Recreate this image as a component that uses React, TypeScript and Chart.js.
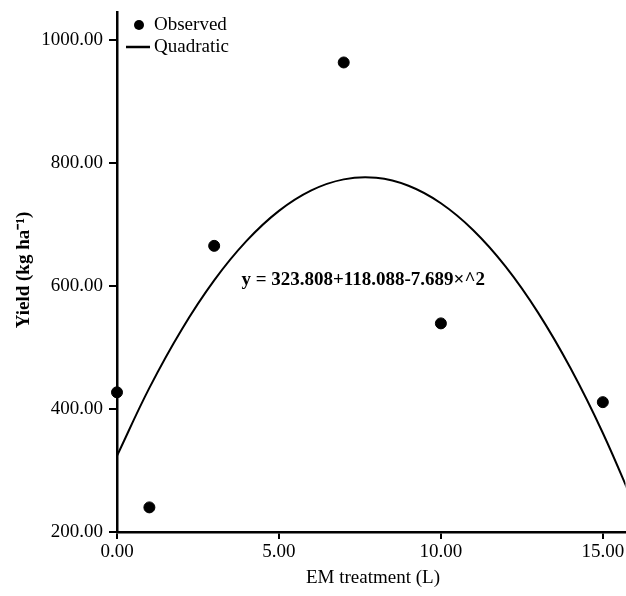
import React, { useEffect, useRef } from "react";
import { Chart, registerables } from "chart.js";

Chart.register(...registerables);

const observedX = [0, 1, 3, 7, 10, 15];
const observedY = [427, 240, 665, 963, 539, 411];

const fitX = [0, 1, 2, 3, 4, 5, 6, 7, 8, 9, 10, 11, 12, 13, 14, 15, 16];
const fitY = [323.8, 434.2, 529.2, 608.9, 673.0, 721.8, 755.1, 773.0, 775.5, 762.6, 734.2, 690.4, 631.2, 556.5, 466.4, 360.9, 240.0];

const xTicks = [0, 5, 10, 15];
const yTicks = [200, 400, 600, 800, 1000];

const legendLabels = ["Observed", "Quadratic"];
const equationText = "y = 323.808+118.088-7.689\u00d7^2";
const xTitle = "EM treatment (L)";
const yTitle = "Yield (kg ha\u207b\u00b9)";

const FONT = "'Liberation Serif', 'Times New Roman', serif";

const textPlugin = {
  id: "textPlugin",
  afterDraw(chart: any) {
    const ctx = chart.ctx;
    const xs = chart.scales.x;
    const ys = chart.scales.y;
    ctx.save();
    ctx.fillStyle = "#000";
    ctx.strokeStyle = "#000";
    // legend
    ctx.beginPath();
    ctx.arc(139, 25, 5, 0, Math.PI * 2);
    ctx.fill();
    ctx.lineWidth = 2.5;
    ctx.beginPath();
    ctx.moveTo(126, 47);
    ctx.lineTo(150, 47);
    ctx.stroke();
    ctx.font = `19px ${FONT}`;
    ctx.textAlign = "left";
    ctx.textBaseline = "middle";
    ctx.fillText(legendLabels[0], 154, 25);
    ctx.fillText(legendLabels[1], 154, 47);
    // equation
    ctx.font = `bold 19px ${FONT}`;
    ctx.textAlign = "center";
    ctx.fillText(equationText, xs.getPixelForValue(7.6), ys.getPixelForValue(610));
    // x title
    ctx.font = `19px ${FONT}`;
    ctx.fillText(xTitle, 373, 578);
    // y title
    ctx.translate(24, 270);
    ctx.rotate(-Math.PI / 2);
    ctx.font = `bold 19px ${FONT}`;
    ctx.fillText(yTitle, 0, 0);
    ctx.restore();
  },
};

export default function App() {
  const ref = useRef<HTMLCanvasElement>(null);
  useEffect(() => {
    if (!ref.current) return;
    const chart = new Chart(ref.current, {
      type: "scatter",
      data: {
        datasets: [
          {
            type: "scatter",
            label: legendLabels[0],
            data: observedX.map((x, i) => ({ x, y: observedY[i] })),
            backgroundColor: "#000",
            borderColor: "#000",
            pointRadius: 5.5,
            clip: false,
          } as any,
          {
            type: "line",
            label: legendLabels[1],
            data: fitX.map((x, i) => ({ x, y: fitY[i] })),
            borderColor: "#000",
            borderWidth: 2,
            pointRadius: 0,
            tension: 0.4,
            fill: false,
          } as any,
        ],
      },
      options: {
        animation: false,
        responsive: false,
        maintainAspectRatio: false,
        layout: { padding: { top: 12, right: 0, left: 0, bottom: 0 } },
        plugins: { legend: { display: false }, tooltip: { enabled: false } },
        scales: {
          x: {
            type: "linear",
            min: 0,
            max: 15.7,
            afterBuildTicks: (s: any) => {
              s.ticks = xTicks.map((v) => ({ value: v }));
            },
            afterFit: (s: any) => {
              s.height = 64;
              s.paddingRight = 0;
              s.paddingLeft = 0;
            },
            border: { color: "#000", width: 2.5 },
            grid: { drawOnChartArea: false, color: "#000", lineWidth: 2, tickLength: 7 },
            ticks: {
              color: "#000",
              padding: 2,
              maxRotation: 0,
              font: { family: FONT, size: 19 },
              callback: (v: any) => Number(v).toFixed(2),
            },
          },
          y: {
            type: "linear",
            min: 200,
            max: 1045,
            afterBuildTicks: (s: any) => {
              s.ticks = yTicks.map((v) => ({ value: v }));
            },
            afterFit: (s: any) => {
              s.width = 117;
              s.paddingTop = 0;
              s.paddingBottom = 0;
            },
            border: { color: "#000", width: 2.5 },
            grid: { drawOnChartArea: false, color: "#000", lineWidth: 2, tickLength: 8 },
            ticks: {
              color: "#000",
              padding: 6,
              font: { family: FONT, size: 19 },
              callback: (v: any) => Number(v).toFixed(2),
            },
          },
        },
      },
      plugins: [textPlugin],
    });
    return () => chart.destroy();
  }, []);
  return (
    <div style={{ position: "absolute", left: 0, top: 0, width: 626, height: 596, overflow: "hidden", background: "#fff" }}>
      <canvas ref={ref} width={632} height={596} style={{ width: 632, height: 596, display: "block" }} />
    </div>
  );
}
